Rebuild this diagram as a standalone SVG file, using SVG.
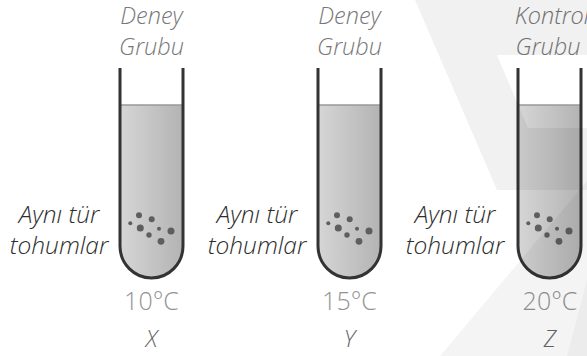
<svg xmlns="http://www.w3.org/2000/svg" width="587" height="356" viewBox="0 0 587 356">
  <defs>
    <linearGradient id="liquid" x1="0" y1="0" x2="1" y2="0">
      <stop offset="0" stop-color="#d6d6d6"/>
      <stop offset="1" stop-color="#b3b3b3"/>
    </linearGradient>
    <clipPath id="tubeInner">
      <path d="M0,0 V178 A31.5,32 0 0 0 63,178 V0 Z"/>
    </clipPath>
    <g id="tube">
      <g clip-path="url(#tubeInner)">
        <rect x="0" y="37" width="63" height="180" fill="url(#liquid)"/>
        <line x1="0" y1="37" x2="63" y2="37" stroke="#999" stroke-width="1.6"/>
      </g>
      <path d="M0,0 V178 A31.5,32 0 0 0 63,178 V0" fill="none" stroke="#333" stroke-width="3"/>
      <g fill="#5e5e5e">
        <circle cx="19" cy="147.3" r="3"/>
        <circle cx="31.7" cy="151.3" r="3"/>
        <circle cx="10.3" cy="155.3" r="2"/>
        <circle cx="20.3" cy="160" r="3.5"/>
        <circle cx="39" cy="160.7" r="2"/>
        <circle cx="29" cy="167" r="2.7"/>
        <circle cx="51" cy="163" r="3.5"/>
        <circle cx="41" cy="173.3" r="3.4"/>
      </g>
    </g>
  </defs>
  <style>
    text { font-family: "Open Sans", "DejaVu Sans", sans-serif; font-style: italic; font-weight: 300; text-anchor: middle; }
    .group { font-size: 23.5px; fill: #777; }
    .seed { font-size: 24.5px; fill: #2e2e2e; }
    .temp { font-size: 25px; fill: #939393; font-style: normal; }
    .name { font-size: 23px; fill: #666; }
  </style>

  <rect width="587" height="356" fill="#fff"/>

  <!-- tube X -->
  <g id="tube-x">
    <use href="#tube" x="120" y="68"/>
    <text class="group" x="151.5" y="24">Deney</text>
    <text class="group" x="151.5" y="55">Grubu</text>
    <text class="seed" x="59" y="223">Aynı tür</text>
    <text class="seed" x="59" y="254">tohumlar</text>
    <text class="temp" x="151.5" y="310">10°C</text>
    <text class="name" x="151.5" y="347">X</text>
  </g>

  <!-- tube Y -->
  <g id="tube-y">
    <use href="#tube" x="318" y="68"/>
    <text class="group" x="349.5" y="24">Deney</text>
    <text class="group" x="349.5" y="55">Grubu</text>
    <text class="seed" x="257" y="223">Aynı tür</text>
    <text class="seed" x="257" y="254">tohumlar</text>
    <text class="temp" x="349.5" y="310">15°C</text>
    <text class="name" x="349.5" y="347">Y</text>
  </g>

  <!-- tube Z -->
  <g id="tube-z">
    <use href="#tube" x="518" y="68"/>
    <text class="group" x="552" y="24">Kontrol</text>
    <text class="group" x="548" y="55">Grubu</text>
    <text class="seed" x="455" y="223">Aynı tür</text>
    <text class="seed" x="455" y="254">tohumlar</text>
    <text class="temp" x="550" y="310">20°C</text>
    <text class="name" x="550" y="347">Z</text>
  </g>

  <!-- faint background mark laid over the right side -->
  <g id="mark" fill="#000">
    <polygon points="415,0 587,0 587,55 497,55 528,128 587,128 587,190 497,190" opacity="0.055"/>
    <polygon points="587,181 587,356 440,356" opacity="0.045"/>
    <polygon points="587,280 587,356 567,356" opacity="0.03"/>
  </g>
</svg>
